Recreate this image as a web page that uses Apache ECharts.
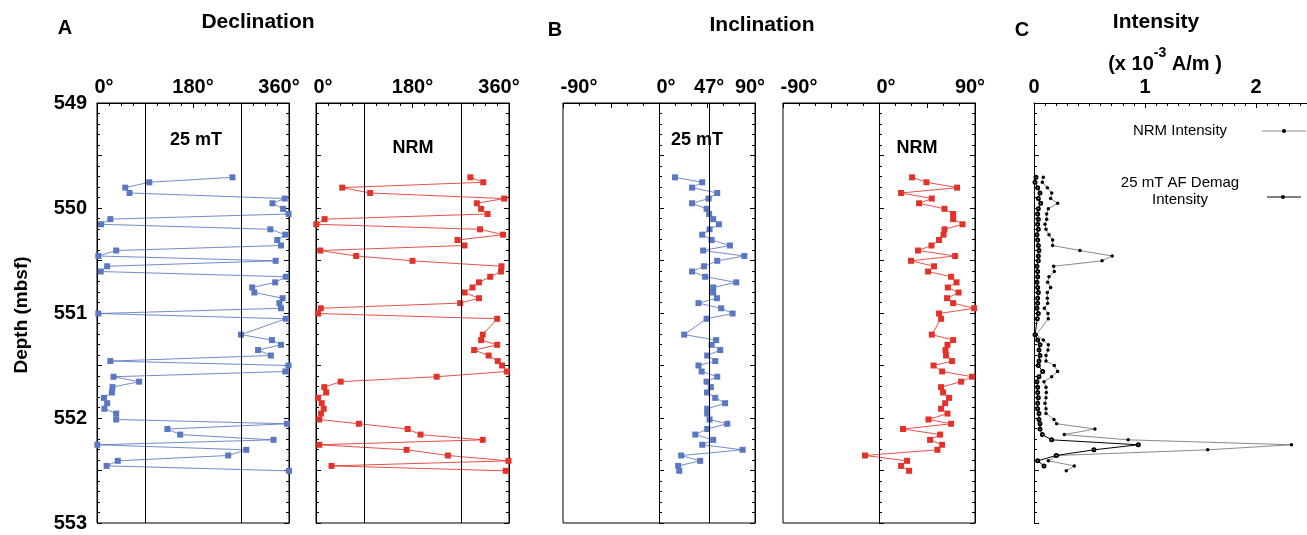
<!DOCTYPE html>
<html>
<head>
<meta charset="utf-8">
<script src="https://cdn.jsdelivr.net/npm/echarts@6/dist/echarts.min.js"></script>
<style>
  html, body { margin: 0; padding: 0; background: #fff; }
  #main { width: 1307px; height: 535px; }
</style>
</head>
<body>
<div id="main"></div>
<script>
// depth of each sample (mbsf)
var depths = [549.708, 549.755, 549.806, 549.857, 549.91, 549.955, 550.008, 550.057, 550.106, 550.155,
  550.203, 550.254, 550.305, 550.357, 550.405, 550.457, 550.503, 550.555, 550.605, 550.655,
  550.708, 550.757, 550.805, 550.859, 550.906, 550.955, 551.005, 551.055,
  551.206, 551.258, 551.303, 551.353, 551.405, 551.458, 551.5, 551.557, 551.607, 551.654,
  551.706, 551.757, 551.808, 551.859, 551.912, 551.958, 552.014, 552.055, 552.105, 552.158,
  552.208, 552.255, 552.303, 552.357, 552.408, 552.456, 552.503];

// declination (deg)
var dec25 = [254, 98, 53, 61, 352, 329, 349, 359, 25, 7.5, 325, 353, 338, 345, 36, 2.4, 335, 19, 7, 354,
  334, 291, 295, 348, 342, 345, 2.4, 354, 270, 328, 345, 302, 326, 25, 359, 353, 31, 79, 29, 28,
  13, 19, 14, 36, 36, 356, 132, 156, 331, 0.6, 280, 246, 39, 18, 360];
var decNRM = [288, 312, 49, 101, 351, 300, 308, 320, 16, 0.6, 306, 349, 264, 277, 8, 75, 180, 346, 345, 325,
  304, 292, 277, 304, 269, 9, 4, 338, 311, 308, 338, 295, 322, 339, 347, 356, 225, 46, 15.5, 19,
  3.7, 10.6, 14.4, 9.3, 6.2, 80, 171, 195, 311, 6.2, 169, 246, 359, 29, 354];

// inclination (deg)
var inc25 = [15, 40.5, 31, 54.6, 46.5, 31, 44.6, 47, 50.8, 56.2, 47.4, 40.5, 49.3, 66.5, 41.4, 80, 54.6, 42.3, 31, 43.3,
  72.4, 50.8, 50.8, 54.3, 37, 58.3, 69, 44.6, 23.6, 53.6, 49.3, 57.4, 45.2, 52.7, 37, 40, 54.6, 44.6, 48.6, 45,
  52.7, 62, 45.2, 45.2, 47.4, 64, 45.2, 34, 50.8, 40.5, 78.4, 20.8, 38.6, 18, 19];
var incNRM = [31, 44.5, 73.2, 20.7, 49.5, 37.6, 61.4, 69.5, 69.5, 78.3, 61.4, 60.5, 56.3, 49.2, 36.6, 71.4, 30, 51.6, 46, 67.6,
  72.7, 64.5, 74.6, 63.8, 69.5, 89.2, 56.3, 58.2, 49.5, 69.5, 64.2, 62.3, 62.9, 68.5, 51.1, 59.2, 87.3, 77, 58.2, 60.1,
  65.7, 62, 58.2, 64.2, 46.4, 67.6, 22.5, 57.3, 47.9, 59.2, 54.8, -13.1, 26.3, 20.7, 28.2];

// intensity (x 10^-3 A/m)
var intNRM = [0.084, 0.075, 0.12, 0.16, 0.15, 0.213, 0.129, 0.114, 0.114, 0.099, 0.108, 0.135, 0.168, 0.168, 0.414, 0.705, 0.613, 0.177, 0.183, 0.135,
  0.123, 0.15, 0.12, 0.12, 0.123, 0.093, 0.126, 0.129, 0.02, 0.084, 0.129, 0.126, 0.108, 0.108, 0.183, 0.213, 0.159, 0.09, 0.108, 0.111,
  0.108, 0.099, 0.108, 0.108, 0.18, 0.204, 0.549, 0.273, 0.849, 2.32, 1.565, 0.213, 0.129, 0.363, 0.291];
var int25 = [0.018, 0.009, 0.033, 0.054, 0.039, 0.06, 0.039, 0.033, 0.039, 0.033, 0.039, 0.027, 0.033, 0.039, 0.045, 0.039, 0.039, 0.027, 0.033, 0.033,
  0.027, 0.033, 0.039, 0.033, 0.033, 0.027, 0.039, 0.03, 0.009, 0.033, 0.054, 0.045, 0.054, 0.045, 0.039, 0.078, 0.045, 0.027, 0.033, 0.033,
  0.039, 0.033, 0.033, 0.045, 0.045, 0.054, 0.054, 0.075, 0.159, 0.94, 0.54, 0.2, 0.033, 0.09, null];

var depthTicks = [549, 550, 551, 552, 553];
var decLabels = [0, 180, 360];
var incLabels25 = [-90, 0, 47, 90];
var incLabelsNRM = [-90, 0, 90];
var intLabels = [0, 1, 2];

var FONT = "'Liberation Sans', Arial, sans-serif";
var BLUE = "#5a77c2";
var RED = "#e2332b";

function pairs(xs) {
  var out = [];
  xs.forEach(function (v, i) {
    if (v !== null) out.push([v, depths[i]]);
  });
  return out;
}

var grids = [
  { left: 97, top: 103, width: 192, height: 420, show: true, borderColor: "#000", borderWidth: 1 },
  { left: 316, top: 103, width: 193, height: 420, show: true, borderColor: "#000", borderWidth: 1 },
  { left: 563, top: 103, width: 192, height: 420, show: true, borderColor: "#000", borderWidth: 1 },
  { left: 783, top: 103, width: 192, height: 420, show: true, borderColor: "#000", borderWidth: 1 },
  { left: 1034, top: 103, width: 273, height: 420, show: false }
];

function depthAxis(gi, pos, labels) {
  return {
    type: "value", gridIndex: gi, position: pos, inverse: true,
    min: 549, max: 553, interval: 0.5,
    axisLine: { show: true, lineStyle: { color: "#000", width: 1 } },
    axisTick: { show: true, inside: true, length: 5, lineStyle: { color: "#000" } },
    minorTick: { show: true, splitNumber: 5, length: 3, lineStyle: { color: "#000" } },
    splitLine: { show: false },
    axisLabel: labels ? {
      show: true, customValues: depthTicks, margin: 10,
      fontSize: 20, fontWeight: "bold", color: "#000", fontFamily: FONT
    } : { show: false }
  };
}

var labelRich = {
  n: { fontSize: 20, fontWeight: "bold", fontFamily: FONT, color: "#000" },
  z: { fontSize: 20, fontWeight: "bold", fontFamily: FONT, color: "#000", padding: [0, 0, 0, 14] },
  lo: { fontSize: 20, fontWeight: "bold", fontFamily: FONT, color: "#000", padding: [0, 0, 0, 32] },
  hd: { fontSize: 20, fontWeight: "bold", fontFamily: FONT, color: "#000", padding: [0, 20, 0, 0] },
  hi: { fontSize: 20, fontWeight: "bold", fontFamily: FONT, color: "#000", padding: [0, 10, 0, 0] }
};

function topAxis(gi, min, max, interval, minorSplit, labels, fmt) {
  return {
    type: "value", gridIndex: gi, position: "top",
    min: min, max: max, interval: interval,
    axisLine: { show: true, lineStyle: { color: "#000", width: 1 } },
    axisTick: { show: true, inside: true, length: 5, lineStyle: { color: "#000" } },
    minorTick: { show: true, splitNumber: minorSplit, length: 3, lineStyle: { color: "#000" } },
    splitLine: { show: false },
    axisLabel: {
      show: true, customValues: labels, margin: 6,
      fontSize: 20, fontWeight: "bold", color: "#000", fontFamily: FONT,
      formatter: fmt, rich: labelRich
    }
  };
}

// degree labels: zero and end labels are nudged like the original figure
function deg(v) {
  var s = v + "°";
  if (v === 0) return "{z|" + s + "}";
  if (v === -90) return "{lo|" + s + "}";
  if (v === 360) return "{hd|" + s + "}";
  if (v === 90) return "{hi|" + s + "}";
  return "{n|" + s + "}";
}

function vlines(vals) {
  return {
    silent: true, symbol: "none", animation: false,
    label: { show: false },
    lineStyle: { color: "#000", width: 1, type: "solid" },
    data: vals.map(function (v) { return { xAxis: v }; })
  };
}

function markSeries(name, xi, yi, data, color, lines) {
  return {
    name: name, type: "line", xAxisIndex: xi, yAxisIndex: yi,
    data: data,
    symbol: "rect", symbolSize: 6,
    itemStyle: { color: color },
    lineStyle: { color: color, width: 1, opacity: 0.85 },
    markLine: vlines(lines)
  };
}

function txt(x, y, s, size, weight, extra) {
  var st = {
    text: s, fontSize: size, fontWeight: weight || "bold", fontFamily: FONT,
    fill: "#000", align: "center", verticalAlign: "middle"
  };
  if (extra) for (var k in extra) st[k] = extra[k];
  return { type: "text", x: x, y: y, silent: true, style: st };
}

var myChart = echarts.init(document.getElementById("main"));
var option = {
  animation: false,
  backgroundColor: "#fff",
  grid: grids,
  xAxis: [
    topAxis(0, 0, 360, 90, 4, decLabels, deg),
    topAxis(1, 0, 360, 90, 4, decLabels, deg),
    topAxis(2, -90, 90, 45, 3, incLabels25, deg),
    topAxis(3, -90, 90, 45, 3, incLabelsNRM, deg),
    topAxis(4, 0, 2.46, 1, 10, intLabels, function (v) { return "{n|" + v + "}"; })
  ],
  yAxis: [
    depthAxis(0, "left", true),
    depthAxis(1, "left", false),
    depthAxis(2, "left", false),
    depthAxis(3, "left", false),
    depthAxis(4, "left", false),
    depthAxis(0, "right", false),
    depthAxis(1, "right", false),
    depthAxis(2, "right", false),
    depthAxis(3, "right", false)
  ],
  series: [
    markSeries("Dec 25 mT", 0, 0, pairs(dec25), BLUE, [90, 270]),
    markSeries("Dec NRM", 1, 1, pairs(decNRM), RED, [90, 270]),
    markSeries("Inc 25 mT", 2, 2, pairs(inc25), BLUE, [0, 47]),
    markSeries("Inc NRM", 3, 3, pairs(incNRM), RED, [0]),
    {
      name: "NRM Intensity", type: "line", xAxisIndex: 4, yAxisIndex: 4,
      data: pairs(intNRM),
      symbol: "circle", symbolSize: 3.5,
      itemStyle: { color: "#000" },
      lineStyle: { color: "#8a8a8a", width: 1 }
    },
    {
      name: "25 mT AF Demag Intensity", type: "line", xAxisIndex: 4, yAxisIndex: 4,
      data: pairs(int25),
      symbol: "emptyCircle", symbolSize: 3,
      itemStyle: { color: "#000", borderWidth: 0.8 },
      lineStyle: { color: "#000", width: 1 }
    }
  ],
  graphic: [
    txt(65, 28, "A", 20),
    txt(258, 22, "Declination", 21),
    txt(555, 30, "B", 20),
    txt(762, 25, "Inclination", 21),
    txt(1022, 30, "C", 20),
    txt(1156, 22, "Intensity", 21),
    {
      type: "text", x: 1165, y: 60, silent: true,
      style: {
        text: "{b|(x 10}{s|-3}{b| A/m )}",
        align: "center", verticalAlign: "middle",
        rich: {
          b: { fontSize: 20, fontWeight: "bold", fontFamily: FONT, fill: "#000", lineHeight: 28, verticalAlign: "bottom" },
          s: { fontSize: 14, fontWeight: "bold", fontFamily: FONT, fill: "#000", lineHeight: 28, verticalAlign: "top" }
        }
      }
    },
    txt(196, 140, "25 mT", 18),
    txt(413, 148, "NRM", 18),
    txt(697, 140, "25 mT", 18),
    txt(917, 148, "NRM", 18),
    {
      type: "text", x: 22, y: 315, rotation: Math.PI / 2, silent: true,
      style: { text: "Depth (mbsf)", fontSize: 19, fontWeight: "bold", fontFamily: FONT, fill: "#000", align: "center", verticalAlign: "middle" }
    },
    // legend
    txt(1180, 131, "NRM Intensity", 15, "normal"),
    { type: "line", silent: true, shape: { x1: 1262, y1: 131, x2: 1306, y2: 131 }, style: { stroke: "#8a8a8a", lineWidth: 1 } },
    { type: "circle", silent: true, shape: { cx: 1284, cy: 131, r: 2 }, style: { fill: "#000" } },
    txt(1180, 191, "25 mT AF Demag\nIntensity", 15, "normal", { lineHeight: 17 }),
    { type: "line", silent: true, shape: { x1: 1267, y1: 197, x2: 1301, y2: 197 }, style: { stroke: "#000", lineWidth: 1 } },
    { type: "circle", silent: true, shape: { cx: 1283, cy: 197, r: 2 }, style: { fill: "#000" } }
  ]
};
myChart.setOption(option);
window.addEventListener("resize", function () {
  myChart.resize();
});
</script>
</body>
</html>
